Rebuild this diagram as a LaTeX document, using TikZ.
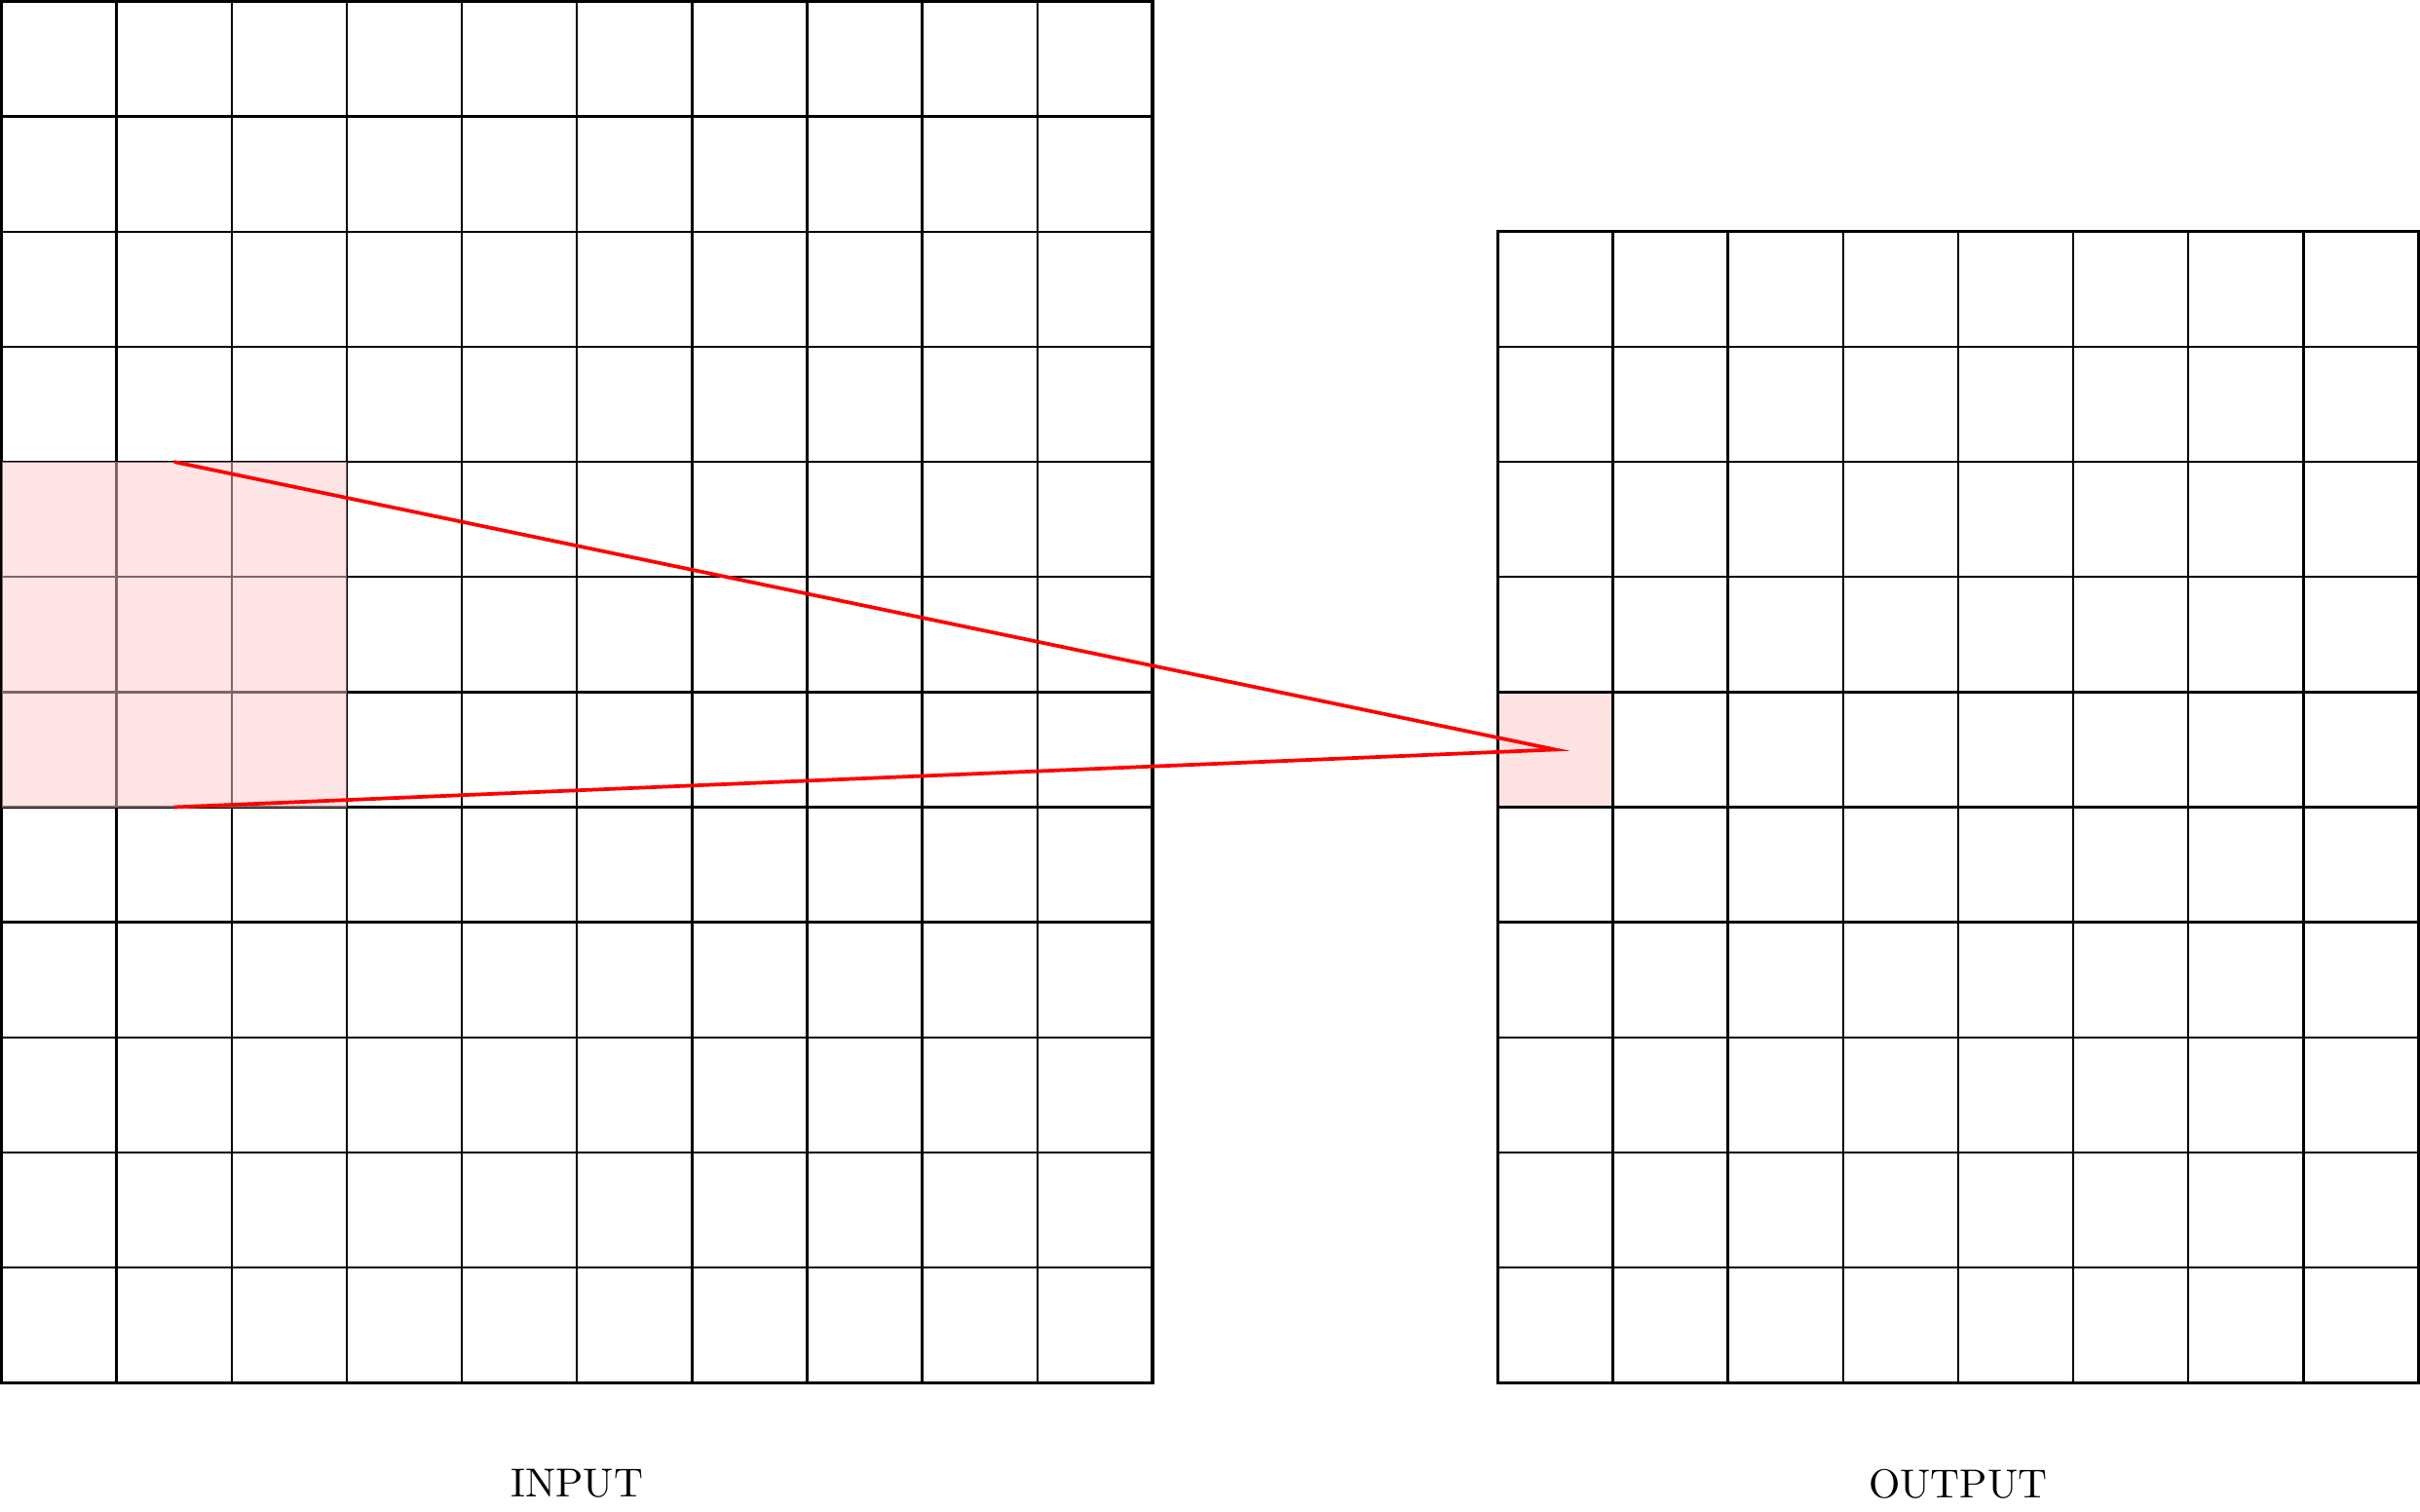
\documentclass[tikz,border=0pt]{standalone}
\usepackage{tikz}
\usetikzlibrary{calc,positioning}

\tikzset{
    cellgrid/.style={semithick},
    gridframe/.style={line width=0.8pt},
    patchfill/.style={fill=red!20, opacity=0.5},
    mapline/.style={red, line width=0.9pt}
}

\begin{document}
\begin{tikzpicture}
            \useasboundingbox (-0.013,-1.117) rectangle (21.013,12.013);
            % output cell (under the grid)
            \fill[red!20!white!55] (13,5) rectangle (14,6);
            % input grid 10x12
            \draw[cellgrid] (0,0) grid (10,12);
            \draw[gridframe] (0,0) rectangle (10,12);
            % output grid 8x10
            \draw[cellgrid] (13,0) grid (21,10);
            \draw[gridframe] (13,0) rectangle (21,10);
            % receptive field
            \fill[patchfill] (0,5) rectangle (3,8);
            \coordinate (patchtop) at (1.5,8);
            \coordinate (patchbot) at (1.5,5);
            \coordinate (outcell) at (13.5,5.5);
            \draw[mapline] (patchtop)--(outcell)--(patchbot);
            \node (inlabel) at (5,-0.88) {INPUT};
            \node (outlabel) at (17,-0.88) {OUTPUT};
        \end{tikzpicture}
\end{document}
